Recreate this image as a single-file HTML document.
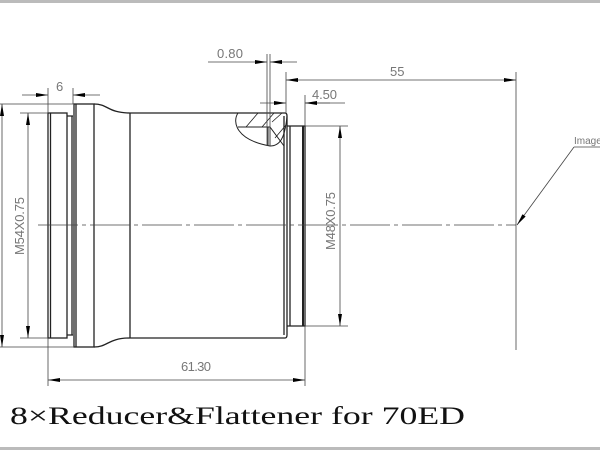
<!DOCTYPE html>
<html><head><meta charset="utf-8"><style>
html,body{margin:0;padding:0;background:#fff}
svg{display:block}
.d{font-family:"Liberation Sans",sans-serif;font-size:13px;fill:#777}
</style></head><body>
<svg width="600" height="450" viewBox="0 0 600 450" xmlns="http://www.w3.org/2000/svg">
<rect x="0" y="0" width="600" height="3" fill="#bbb"/>
<rect x="0" y="447" width="600" height="3" fill="#bbb"/>
<defs>
<marker id="a" viewBox="0 0 12 4" refX="12" refY="2" markerWidth="12" markerHeight="4" orient="auto-start-reverse" markerUnits="userSpaceOnUse"><path d="M0,0L12,2L0,4z" fill="#000"/></marker>
</defs>
<g stroke="#222" fill="none" stroke-width="1.3">
<rect x="48" y="113" width="19" height="225"/>
<line x1="50.5" y1="113" x2="50.5" y2="338"/>
<path d="M67,116H73M67,335H73"/>
<line x1="72" y1="116" x2="72" y2="335"/>
<rect x="74" y="104" width="20" height="243"/>
<line x1="76" y1="104" x2="76" y2="347"/>
<path d="M94,104C108,104 108,113 130,113H285Q287,113 287,116"/>
<path d="M94,347C108,347 108,338 130,338H285Q287,338 287,335"/>
<line x1="130" y1="113" x2="130" y2="338"/>
<line x1="284" y1="116" x2="284" y2="335"/>
<line x1="287" y1="116" x2="287" y2="335"/>
<path d="M287,126H305V326H287"/>
<line x1="290" y1="126" x2="290" y2="326"/>
<line x1="303" y1="126" x2="303" y2="326" stroke-width="2"/>
<path d="M238,113C232,122 236,140 270,146C280,146 285,138 287,116" stroke-width="1"/>
<path d="M238,127H270V146M268,127V146M270,127L284,146" stroke-width="1"/>
<path d="M246,127L258,113M262,127L274,113M275,138L286,125M272,122L282,113" stroke-width="0.8"/>
</g>
<g stroke="#444" stroke-width="0.8" fill="none">
<path d="M38,225H516" stroke-dasharray="40,4,4,4"/>
<path d="M48,88V113M73,88V104"/>
<line x1="22" y1="95" x2="48" y2="95" marker-end="url(#a)"/>
<line x1="100" y1="95" x2="73" y2="95" marker-end="url(#a)"/>
<path d="M0,104H74M0,347H74"/>
<line x1="2" y1="225" x2="2" y2="104" marker-end="url(#a)"/>
<line x1="2" y1="225" x2="2" y2="347" marker-end="url(#a)"/>
<path d="M20,113H48M20,338H48"/>
<line x1="28" y1="225" x2="28" y2="113" marker-end="url(#a)"/>
<line x1="28" y1="225" x2="28" y2="338" marker-end="url(#a)"/>
<path d="M267,54V146M270,54V146"/>
<line x1="208" y1="62" x2="267" y2="62" marker-end="url(#a)"/>
<line x1="297" y1="62" x2="270" y2="62" marker-end="url(#a)"/>
<path d="M286,72V113M516,72V350"/>
<line x1="400" y1="80" x2="286" y2="80" marker-end="url(#a)"/>
<line x1="400" y1="80" x2="516" y2="80" marker-end="url(#a)"/>
<path d="M305,95V126"/>
<line x1="260" y1="103" x2="286" y2="103" marker-end="url(#a)"/>
<line x1="345" y1="103" x2="305" y2="103"/>
<line x1="330" y1="103" x2="305" y2="103" marker-end="url(#a)"/>
<path d="M305,126H348M305,326H348"/>
<line x1="340" y1="225" x2="340" y2="126" marker-end="url(#a)"/>
<line x1="340" y1="225" x2="340" y2="326" marker-end="url(#a)"/>
<path d="M48,338V386M305,326V386"/>
<line x1="180" y1="380" x2="48" y2="380" marker-end="url(#a)"/>
<line x1="180" y1="380" x2="305" y2="380" marker-end="url(#a)"/>
<path d="M574,147H600"/>
<line x1="574" y1="147" x2="517" y2="225" marker-end="url(#a)"/>
</g>
<text class="d" x="217" y="58" textLength="26">0.80</text>
<text class="d" x="56" y="91">6</text>
<text class="d" x="390" y="76">55</text>
<text class="d" x="312" y="99" textLength="25">4.50</text>
<text class="d" x="181" y="371" textLength="30">61.30</text>
<text class="d" x="574" y="144" style="font-size:10px">Image</text>
<text class="d" transform="translate(24,255) rotate(-90)" textLength="58">M54X0.75</text>
<text class="d" transform="translate(335,250) rotate(-90)" textLength="58">M48X0.75</text>
<text x="10" y="424" font-family="'Liberation Serif',serif" font-size="25" fill="#111" textLength="455" lengthAdjust="spacingAndGlyphs">8×Reducer&amp;Flattener for 70ED</text>
</svg>
</body></html>
